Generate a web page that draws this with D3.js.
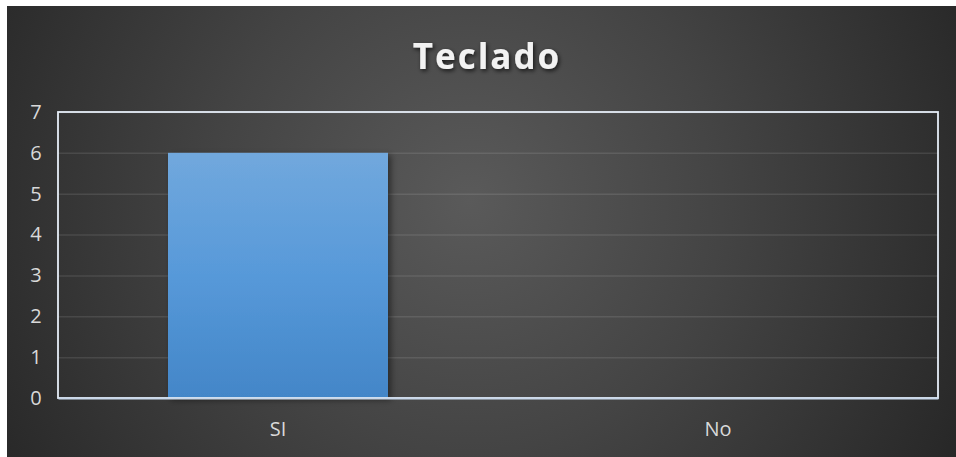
<!DOCTYPE html>
<html>
<head>
<meta charset="utf-8">
<script src="https://cdn.jsdelivr.net/npm/d3@7"></script>
<style>
  html, body { margin: 0; padding: 0; background: #ffffff; }
  svg { display: block; }
  text { font-family: "Open Sans", "DejaVu Sans", sans-serif; }
</style>
</head>
<body>
<svg id="chart" width="956" height="457"></svg>
<script>
// Chart data
const title = "Teclado";
const categories = ["SI", "No"];
const values = [6, 0];
const yTicks = [0, 1, 2, 3, 4, 5, 6, 7];

const W = 956, H = 457;
const margin = { left: 58, right: 18, top: 112, bottom: 59 };

const svg = d3.select("#chart");
const defs = svg.append("defs");

// Dark radial background
const bg = defs.append("radialGradient").attr("id", "bgGrad")
  .attr("gradientUnits", "userSpaceOnUse")
  .attr("cx", 470).attr("cy", 200).attr("r", 560);
bg.append("stop").attr("offset", "0%").attr("stop-color", "#5a5a5a");
bg.append("stop").attr("offset", "45%").attr("stop-color", "#444444");
bg.append("stop").attr("offset", "100%").attr("stop-color", "#262626");

// Bar fill: lighter blue at top, deeper at base
const barGrad = defs.append("linearGradient").attr("id", "barGrad")
  .attr("x1", 0).attr("y1", 0).attr("x2", 0).attr("y2", 1);
barGrad.append("stop").attr("offset", "0%").attr("stop-color", "#71a8dd");
barGrad.append("stop").attr("offset", "50%").attr("stop-color", "#5799d9");
barGrad.append("stop").attr("offset", "100%").attr("stop-color", "#4386c8");

const barShadow = defs.append("filter").attr("id", "barShadow")
  .attr("x", "-10%").attr("y", "-10%").attr("width", "130%").attr("height", "130%");
barShadow.append("feDropShadow").attr("dx", 3).attr("dy", 2).attr("stdDeviation", 3)
  .attr("flood-color", "#000").attr("flood-opacity", 0.45);

const titleShadow = defs.append("filter").attr("id", "titleShadow")
  .attr("x", "-10%").attr("y", "-20%").attr("width", "130%").attr("height", "150%");
titleShadow.append("feDropShadow").attr("dx", 1.5).attr("dy", 2).attr("stdDeviation", 2)
  .attr("flood-color", "#000").attr("flood-opacity", 0.7);

svg.append("rect").attr("x", 7).attr("y", 6).attr("width", W - 7).attr("height", H - 6)
  .attr("fill", "url(#bgGrad)");

// Scales
const x = d3.scaleBand().domain(categories)
  .range([margin.left, W - margin.right]).paddingInner(0.5).paddingOuter(0.25);
const y = d3.scaleLinear().domain([0, 7]).range([H - margin.bottom, margin.top]);

// Horizontal gridlines
svg.append("g")
  .attr("transform", `translate(${margin.left},0)`)
  .call(d3.axisLeft(y).tickValues(yTicks).tickSize(-(W - margin.left - margin.right)).tickFormat(""))
  .call(g => g.select(".domain").remove())
  .call(g => g.selectAll("line").attr("stroke", "#ffffff").attr("stroke-opacity", 0.1).attr("stroke-width", 1.5));

// Y tick labels
svg.append("g")
  .attr("transform", `translate(${margin.left},0)`)
  .call(d3.axisLeft(y).tickValues(yTicks).tickSize(0).tickPadding(18).tickFormat(d3.format("d")))
  .call(g => g.select(".domain").remove())
  .call(g => g.selectAll("text")
    .attr("fill", "#d9d9d9").attr("font-size", 20).attr("text-anchor", "middle")
    .attr("dx", -4).attr("font-family", "'Open Sans', sans-serif"));

// Bars
svg.append("g").selectAll("rect")
  .data(categories.map((c, i) => ({ c, v: values[i] })))
  .join("rect")
  .attr("x", d => x(d.c))
  .attr("y", d => y(d.v))
  .attr("width", x.bandwidth())
  .attr("height", d => y(0) - y(d.v))
  .attr("fill", "url(#barGrad)")
  .attr("filter", "url(#barShadow)");

// Plot frame
svg.append("rect")
  .attr("x", margin.left).attr("y", margin.top)
  .attr("width", W - margin.left - margin.right)
  .attr("height", H - margin.bottom - margin.top)
  .attr("fill", "none").attr("stroke", "#e6eef8").attr("stroke-width", 1.8);

// X axis labels
svg.append("g")
  .attr("transform", `translate(0,${H - margin.bottom})`)
  .call(d3.axisBottom(x).tickSize(0).tickPadding(24))
  .call(g => g.select(".domain").attr("stroke", "#c8d7ea").attr("stroke-width", 2))
  .call(g => g.selectAll("text")
    .attr("fill", "#d9d9d9").attr("font-size", 20)
    .attr("font-family", "'Open Sans', sans-serif"));

// Title
svg.append("text")
  .attr("x", 487).attr("y", 69)
  .attr("text-anchor", "middle")
  .attr("font-size", 35).attr("font-weight", "bold")
  .attr("letter-spacing", 2)
  .attr("fill", "#f2f2f2")
  .attr("filter", "url(#titleShadow)")
  .text(title);
</script>
</body>
</html>
